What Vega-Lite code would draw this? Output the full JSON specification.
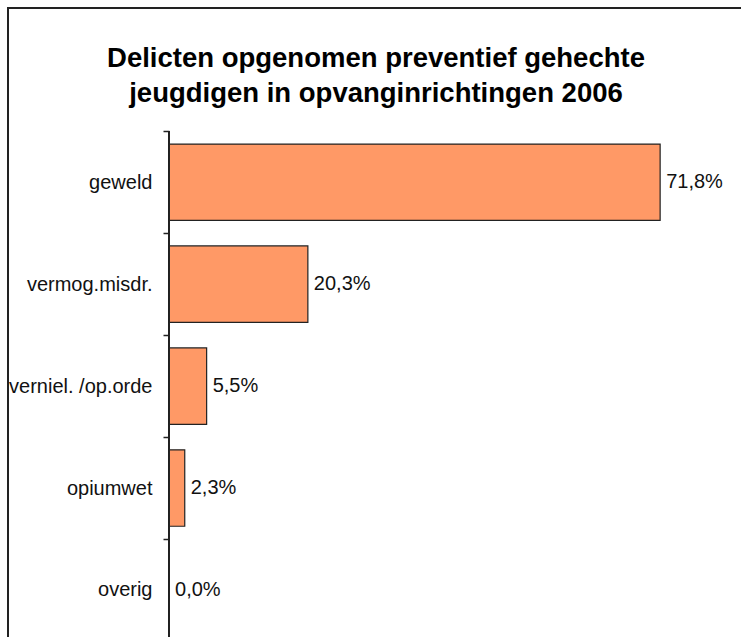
{
  "$schema": "https://vega.github.io/schema/vega-lite/v6.json",
  "autosize": "none",
  "padding": {"left": 8, "top": 8, "right": 0, "bottom": 0},
  "width": 736,
  "height": 688,
  "background": "#ffffff",
  "config": {
    "locale": {"number": {"decimal": ",", "thousands": ".", "grouping": [3], "currency": ["€", ""]}},
    "view": {"stroke": "#222222", "strokeWidth": 2},
    "font": "Liberation Sans"
  },
  "title": {
    "text": ["Delicten opgenomen preventief gehechte", "jeugdigen in opvanginrichtingen 2006"],
    "font": "Liberation Sans",
    "fontSize": 27.5,
    "fontWeight": "bold",
    "color": "#000000",
    "lineHeight": 35,
    "anchor": "middle",
    "frame": "group",
    "baseline": "top",
    "offset": -99
  },
  "data": {
    "values": [
      {"delict": "geweld", "aandeel": 0.718},
      {"delict": "vermog.misdr.", "aandeel": 0.203},
      {"delict": "verniel. /op.orde", "aandeel": 0.055},
      {"delict": "opiumwet", "aandeel": 0.023},
      {"delict": "overig", "aandeel": 0.0}
    ]
  },
  "encoding": {
    "y": {
      "field": "delict",
      "type": "nominal",
      "sort": null,
      "scale": {"paddingInner": 0.25, "paddingOuter": 1, "align": 0.6673},
      "axis": {
        "title": null,
        "domain": false,
        "offset": -161,
        "bandPosition": 0,
        "tickOffset": -12.74,
        "labelOffset": 12.74,
        "tickSize": 6,
        "tickColor": "#222222",
        "tickWidth": 1.5,
        "labelFont": "Liberation Sans",
        "labelFontSize": 20,
        "labelColor": "#111111",
        "labelPadding": 11
      }
    }
  },
  "layer": [
    {
      "mark": {"type": "bar", "fill": "#FF9966", "stroke": "#222222", "strokeWidth": 1.2},
      "encoding": {
        "x": {
          "field": "aandeel",
          "type": "quantitative",
          "scale": {"domain": [-0.2354, 0.8406], "nice": false, "zero": false},
          "axis": null
        }
      }
    },
    {
      "mark": {"type": "text", "align": "left", "baseline": "middle", "dx": 6, "fontSize": 20, "font": "Liberation Sans", "color": "#111111"},
      "encoding": {
        "x": {"field": "aandeel", "type": "quantitative"},
        "text": {"field": "aandeel", "type": "quantitative", "format": ".1%"}
      }
    },
    {
      "mark": {"type": "rule", "color": "#222222", "strokeWidth": 1.5},
      "encoding": {
        "x": {"datum": 0, "type": "quantitative"},
        "y": {"datum": "geweld", "type": "nominal", "bandPosition": -0.1667},
        "y2": {"datum": "overig", "bandPosition": 1.1667}
      }
    }
  ]
}
